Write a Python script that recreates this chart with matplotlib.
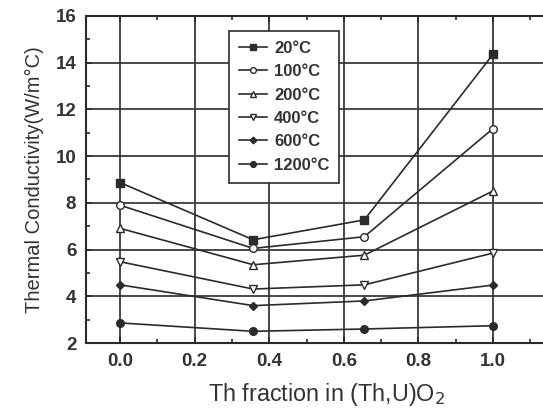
import matplotlib
matplotlib.use("Agg")
import matplotlib.pyplot as plt
from matplotlib.ticker import MultipleLocator

# Th fraction of each (Th,U)O2 composition
th_fraction = [0.0, 0.357, 0.655, 1.0]

# Thermal conductivity (W/m°C) at each temperature
k_20 = [8.87, 6.42, 7.27, 14.36]
k_100 = [7.90, 6.05, 6.55, 11.18]
k_200 = [6.91, 5.35, 5.76, 8.51]
k_400 = [5.48, 4.31, 4.49, 5.85]
k_600 = [4.49, 3.60, 3.80, 4.48]
k_1200 = [2.86, 2.50, 2.60, 2.74]

series_labels = ["20°C", "100°C", "200°C", "400°C", "600°C", "1200°C"]
x_ticks = [0.0, 0.2, 0.4, 0.6, 0.8, 1.0]
y_ticks = [2, 4, 6, 8, 10, 12, 14, 16]

plt.rcParams["font.family"] = ["Liberation Sans", "DejaVu Sans"]
ink = "#2b2b2b"

fig = plt.figure(figsize=(5.43, 4.11), dpi=100)
ax = fig.add_axes([86 / 543, 1 - 343 / 411, 481.6 / 543, (343 - 16) / 411])

styles = [
    dict(marker="s", mfc=ink, ms=5.5),
    dict(marker="o", mfc="white", ms=5.5),
    dict(marker="^", mfc="white", ms=6),
    dict(marker="v", mfc="white", ms=6),
    dict(marker="D", mfc=ink, ms=4.5),
    dict(marker="o", mfc=ink, ms=5.5),
]
for vals, lab, st in zip([k_20, k_100, k_200, k_400, k_600, k_1200], series_labels, styles):
    ax.plot(th_fraction, vals, color=ink, lw=1.2, mec=ink, mew=1.0,
            label=lab, zorder=3, **st)

ax.set_xlim(-0.0912, 1.2)
ax.set_ylim(2, 16)
ax.set_xticks(x_ticks)
ax.set_yticks(y_ticks)
ax.xaxis.set_minor_locator(MultipleLocator(0.1))
ax.yaxis.set_minor_locator(MultipleLocator(1))
ax.set_xticklabels([f"{v:.1f}" for v in x_ticks])
ax.set_yticklabels([str(v) for v in y_ticks])
ax.grid(True, which="major", color="#3a3a3a", lw=1.3)
ax.set_axisbelow(True)

ax.tick_params(which="both", direction="in", top=True, right=True,
               colors=ink, labelsize=13.5, width=1.2)
ax.tick_params(which="major", length=4, pad=7)
ax.tick_params(which="minor", length=3)
for lbl in ax.get_xticklabels() + ax.get_yticklabels():
    lbl.set_fontweight("bold")
    lbl.set_color("#333333")
for sp in ax.spines.values():
    sp.set_color(ink)
    sp.set_linewidth(1.5)

ax.set_xlabel("Th fraction in (Th,U)O$_2$", fontsize=16.8, color="#333333", labelpad=8)
ax.set_ylabel("Thermal Conductivity(W/m°C)", fontsize=14.5, color="#333333", labelpad=8)

leg = ax.legend(loc="upper left", bbox_to_anchor=((229 - 86) / 481.6, (343 - 31) / 327),
                borderaxespad=0, frameon=True, fancybox=False, framealpha=1,
                edgecolor=ink, handlelength=1.7, handletextpad=0.4, markerscale=0.75,
                labelspacing=0.5, borderpad=0.6, prop={"weight": "bold", "size": 12})
leg.get_frame().set_linewidth(1.2)
for t in leg.get_texts():
    t.set_color("#333333")

fig.savefig("out.png", dpi=100)
